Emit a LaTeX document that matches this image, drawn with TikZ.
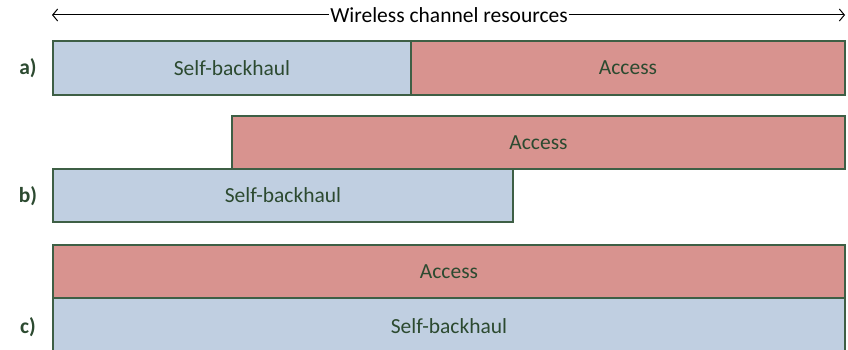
\documentclass[tikz,border=0pt]{standalone}
\usepackage{fontspec}
\setmainfont{Carlito}
\usetikzlibrary{arrows.meta}
\definecolor{edgegreen}{HTML}{3E5F45}
\definecolor{textgreen}{HTML}{2C4A30}
\definecolor{bhblue}{HTML}{C0CFE1}
\definecolor{acred}{HTML}{D8938F}
\tikzset{
  blk/.style={draw=edgegreen, line width=1.4pt, inner sep=0pt, outer sep=0pt,
    text=textgreen, font=\fontsize{21.5}{24}\selectfont},
  bh/.style={blk, fill=bhblue},
  ac/.style={blk, fill=acred},
  rowlabel/.style={text=textgreen, font=\fontsize{21.5}{24}\selectfont\bfseries},
  span/.style={line width=1pt, {Straight Barb[length=5pt,width=12pt]}-{Straight Barb[length=5pt,width=12pt]}}
}
\begin{document}
\begin{tikzpicture}[x=1pt, y=-1pt]
\useasboundingbox (0,0) rectangle (848,350);
\clip (0,0) rectangle (848,350);

% resource axis
\coordinate (axL) at (52,15);
\coordinate (axR) at (845,15);
\node[font=\fontsize{21.5}{24}\selectfont, inner sep=1pt] (axT) at (449,15) {Wireless channel resources};
\draw[line width=1pt, {Straight Barb[length=5pt,width=12pt]}-] (axL) -- (axT.west);
\draw[line width=1pt, -{Straight Barb[length=5pt,width=12pt]}] (axT.east) -- (axR);

% a) split in frequency/time
\node[bh, minimum width=358pt, minimum height=54pt] (aSB) at (232,68) {Self-backhaul};
\node[ac, minimum width=434pt, minimum height=54pt] (aAC) at (628,68) {Access};
\node[rowlabel] (la) at (28,68) {a)};

% b) partial overlap
\node[ac, minimum width=613pt, minimum height=53pt] (bAC) at (538.5,142.5) {Access};
\node[bh, minimum width=460pt, minimum height=53pt] (bSB) at (283,195.5) {Self-backhaul};
\node[rowlabel] (lb) at (28,196) {b)};

% c) full overlap
\node[ac, minimum width=792pt, minimum height=53pt] (cAC) at (449,271.5) {Access};
\node[bh, minimum width=792pt, minimum height=56pt] (cSB) at (449,326) {Self-backhaul};
\node[rowlabel] (lc) at (28,327) {c)};
\end{tikzpicture}
\end{document}
